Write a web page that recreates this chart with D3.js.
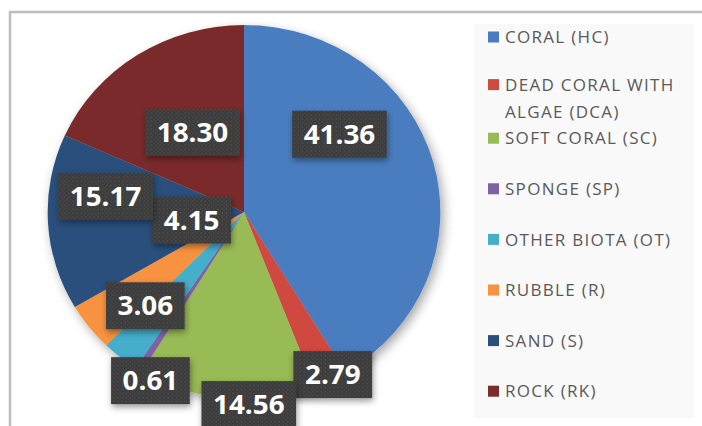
<!DOCTYPE html>
<html>
<head>
  <script src="https://cdnjs.cloudflare.com/ajax/libs/d3/7.8.5/d3.min.js"></script>
  <style>
    body { margin: 0; background: #fff; }
    text { font-family: "Open Sans", sans-serif; }
  </style>
</head>
<body>
  <div id="chart"></div>

  <script>
    // data
    var categories = ["CORAL (HC)", "DEAD CORAL WITH ALGAE (DCA)", "SOFT CORAL (SC)", "SPONGE (SP)",
                      "OTHER BIOTA (OT)", "RUBBLE (R)", "SAND (S)", "ROCK (RK)"];
    var values = [41.36, 2.79, 14.56, 0.61, 3.06, 4.15, 15.17, 18.30];
    var colors = ["#4a7dbf", "#cf4a3f", "#98bb55", "#7e62a3", "#45aecb", "#f7923f", "#2b4f7c", "#7a2c29"];
    var legendLines = [["CORAL (HC)"], ["DEAD CORAL WITH", "ALGAE (DCA)"], ["SOFT CORAL (SC)"], ["SPONGE (SP)"],
                       ["OTHER BIOTA (OT)"], ["RUBBLE (R)"], ["SAND (S)"], ["ROCK (RK)"]];

    // label placement (fraction of radius, angular nudge in degrees), like excel's best fit
    var labelRadius = [0.64, 0.98, 1.03, 1.02, 0.71, 0.27, 0.71, 0.50];
    var labelShift = [-25, -1.4, -6.5, -4.6, 6, 28.8, 10, 1.3];

    var width = 702, height = 426;
    var cx = 244, cy = 212, radius = 187, stretch = 1.05;

    var svg = d3.select("#chart").append("svg")
      .attr("width", width)
      .attr("height", height);

    var defs = svg.append("defs");
    var shadow = defs.append("filter").attr("id", "shadow")
      .attr("x", "-20%").attr("y", "-20%").attr("width", "140%").attr("height", "140%");
    shadow.append("feDropShadow").attr("dx", 3).attr("dy", 4).attr("stdDeviation", 5)
      .attr("flood-color", "#000").attr("flood-opacity", 0.35);
    var boxShadow = defs.append("filter").attr("id", "boxShadow")
      .attr("x", "-30%").attr("y", "-30%").attr("width", "160%").attr("height", "170%");
    boxShadow.append("feDropShadow").attr("dx", 1).attr("dy", 3).attr("stdDeviation", 3)
      .attr("flood-color", "#000").attr("flood-opacity", 0.4);
    var dots = defs.append("pattern").attr("id", "dots")
      .attr("width", 4).attr("height", 4).attr("patternUnits", "userSpaceOnUse");
    dots.append("rect").attr("width", 4).attr("height", 4).attr("fill", "#3b3b3b");
    dots.append("circle").attr("cx", 1).attr("cy", 1).attr("r", 0.8).attr("fill", "#555");
    dots.append("circle").attr("cx", 3).attr("cy", 3).attr("r", 0.8).attr("fill", "#4a4a4a");

    // chart frame
    svg.append("rect").attr("x", 10).attr("y", 12).attr("width", width).attr("height", height)
      .attr("fill", "#fff").attr("stroke", "#bdbdbd").attr("stroke-width", 2.5);

    // legend panel
    svg.append("rect").attr("x", 474).attr("y", 24).attr("width", 220).attr("height", 394)
      .attr("fill", "#f9f9f9");

    var pie = d3.pie().sort(null).value(d => d);
    var arcs = pie(values);
    var arc = d3.arc().innerRadius(0).outerRadius(radius);

    var g = svg.append("g")
      .attr("transform", "translate(" + cx + "," + cy + ") scale(" + stretch + ",1)");

    g.append("g").attr("filter", "url(#shadow)")
      .selectAll("path")
      .data(arcs)
      .enter().append("path")
      .attr("d", arc)
      .attr("fill", (d, i) => colors[i]);

    // data labels
    var labels = g.selectAll(".lbl")
      .data(arcs)
      .enter().append("g")
      .attr("class", "lbl")
      .attr("transform", function(d, i) {
        var a = (d.startAngle + d.endAngle) / 2 + labelShift[i] * Math.PI / 180;
        var r = labelRadius[i] * radius;
        return "translate(" + (Math.sin(a) * r) + "," + (-Math.cos(a) * r) + ")";
      });

    labels.append("rect").attr("class", "box");
    labels.append("text")
      .attr("text-anchor", "middle")
      .attr("dy", "0.36em")
      .attr("fill", "#fff")
      .style("font-size", "26.5px")
      .style("font-weight", "700")
      .text(d => d.data.toFixed(2));

    labels.each(function() {
      var grp = d3.select(this);
      var w = grp.select("text").node().getComputedTextLength() + 22;
      grp.select("rect")
        .attr("x", -w / 2).attr("y", -23.5)
        .attr("width", w).attr("height", 47)
        .attr("fill", "url(#dots)")
        .attr("filter", "url(#boxShadow)");
    });

    // legend
    var legendTop = 37, legendStep = 50.6;
    var legend = svg.append("g").selectAll("g")
      .data(categories)
      .enter().append("g")
      .attr("transform", (d, i) => "translate(488," + (legendTop + i * legendStep) + ")");

    legend.append("rect")
      .attr("x", 0)
      .attr("y", (d, i) => legendLines[i].length > 1 ? -8.5 : -5.5)
      .attr("width", 11).attr("height", 11)
      .attr("fill", (d, i) => colors[i]);

    legend.append("text")
      .attr("x", 17)
      .attr("fill", "#595959")
      .style("font-size", "17px")
      .style("letter-spacing", "1.3px")
      .each(function(d, i) {
        var t = d3.select(this);
        var lines = legendLines[i];
        var y0 = lines.length > 1 ? -3 : 0;
        lines.forEach(function(line, k) {
          t.append("tspan").attr("x", 17).attr("y", y0 + k * 27).attr("dy", "0.36em").text(line);
        });
      });
  </script>
</body>
</html>
